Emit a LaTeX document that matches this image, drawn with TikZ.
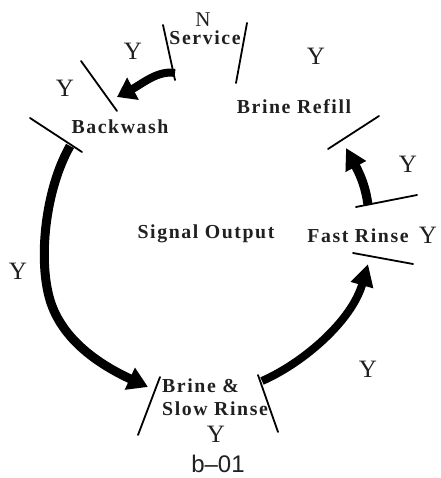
\documentclass[tikz,border=0pt]{standalone}
\usepackage{fontspec}
\setmainfont{Liberation Serif}
\newfontfamily\lblfont[LetterSpace=8]{Liberation Serif Bold}
\newfontfamily\capfont{Liberation Sans}
\usetikzlibrary{arrows.meta}
\definecolor{ink}{HTML}{202020}
\begin{document}
\begin{tikzpicture}[x=1pt,y=-1pt,
  lbl/.style={inner sep=0pt, anchor=base, font=\lblfont\fontsize{19.8}{23}\selectfont, text=ink},
  yes/.style={inner sep=0pt, anchor=base, font=\fontsize{25}{25}\selectfont, text=ink},
  tickline/.style={line width=1.8pt, draw=black, line cap=round},
  flow/.style={line width=8pt, draw=black},
]
\fill[white] (0,0) rectangle (440,478);
\useasboundingbox (0,0) rectangle (440,478);

% labels
\node[yes, font=\fontsize{21}{21}\selectfont] (n) at (203,27) {N};
\node[lbl] (service) at (205,45) {Service};
\node[lbl] (backwash) at (120,134) {Backwash};
\node[lbl] (refill) at (294,114) {Brine Refill};
\node[lbl] (fast) at (358,242) {Fast Rinse};
\node[lbl] (signal) at (206,238) {Signal Output};
\node[lbl, anchor=north west, align=left] (slow) at (162,379) {Brine \&\\Slow Rinse};

\node[yes] (y1) at (133,60) {Y};
\node[yes] (y2) at (65,97) {Y};
\node[yes] (y3) at (316,65) {Y};
\node[yes] (y4) at (408,172) {Y};
\node[yes] (y5) at (428,243) {Y};
\node[yes] (y6) at (18,279) {Y};
\node[yes] (y7) at (216,442) {Y};
\node[yes] (y8) at (368,377) {Y};

\node[inner sep=0pt, anchor=base, font=\capfont\fontsize{24}{24}\selectfont, text=ink] (cap) at (218,472) {b–01};

% ticks
\draw[tickline] (163,25) -- (175,80);
\draw[tickline] (247,23) -- (236,83);
\draw[tickline] (81,61) -- (117,111);
\draw[tickline] (30,118) -- (82,152);
\draw[tickline] (328,149) -- (379,116);
\draw[tickline] (356,207) -- (417,195);
\draw[tickline] (353,253) -- (413,264);
\draw[tickline] (160,377) -- (138,435);
\draw[tickline] (258,375) -- (278,432);

% arrow endpoints
\coordinate (aS) at (175,73);
\coordinate (aB) at (117,97);
\coordinate (bS) at (70,146);
\coordinate (bM) at (50,300);
\coordinate (bE) at (148,387);
\coordinate (cS) at (262,381);
\coordinate (cE) at (368,264);
\coordinate (dS) at (368,205);
\coordinate (dE) at (346,148);

\draw[flow, line width=8pt, -{Triangle[length=18pt,width=24pt]}] (aS) .. controls (158,70) and (142,84) .. (aB);
\draw[flow, line width=9pt, -{Triangle[length=20pt,width=23pt]}] (bS) .. controls (45,190) and (38,260) .. (bM) .. controls (62,340) and (100,365) .. (bE);
\draw[flow, -{Triangle[length=22pt,width=22pt]}] (cS) .. controls (305,362) and (352,320) .. (cE);
\draw[flow, line width=9pt, -{Triangle[length=21pt,width=22pt]}] (dS) .. controls (366,190) and (362,178) .. (dE);
\end{tikzpicture}
\end{document}
